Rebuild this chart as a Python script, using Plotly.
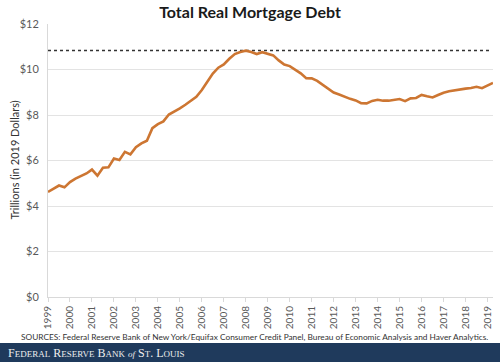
import plotly.graph_objects as go

# Quarterly data, 1999Q1 .. 2019Q2 (trillions, 2019 dollars)
start_year = 1999
debt = [4.62, 4.76, 4.90, 4.82, 5.05, 5.20, 5.32, 5.43, 5.60, 5.33,
        5.68, 5.70, 6.09, 6.02, 6.38, 6.27, 6.58, 6.75, 6.87, 7.42,
        7.60, 7.72, 8.02, 8.15, 8.29, 8.45, 8.62, 8.80, 9.10, 9.45,
        9.82, 10.08, 10.22, 10.47, 10.68, 10.77, 10.83, 10.77, 10.68, 10.76,
        10.70, 10.62, 10.40, 10.22, 10.15, 10.00, 9.83, 9.62, 9.61, 9.50,
        9.32, 9.13, 8.99, 8.90, 8.79, 8.71, 8.64, 8.52, 8.51, 8.62,
        8.67, 8.63, 8.63, 8.67, 8.70, 8.61, 8.73, 8.75, 8.88, 8.82,
        8.77, 8.88, 8.98, 9.04, 9.09, 9.14, 9.16, 9.19, 9.24, 9.18,
        9.30, 9.41]
x_vals = [start_year + i * 0.25 for i in range(len(debt))]
year_ticks = list(range(1999, 2020))
year_labels = [str(y) for y in year_ticks]
y_ticks = [0, 2, 4, 6, 8, 10, 12]
y_labels = ["$" + str(v) for v in y_ticks]
peak = max(debt)

fig = go.Figure()
fig.add_trace(go.Scatter(
    x=[1999, 2019.12], y=[peak, peak], mode="lines",
    line=dict(color="#333333", width=1.5, dash="dot"),
    hoverinfo="skip", showlegend=False))
fig.add_trace(go.Scatter(
    x=x_vals, y=debt, mode="lines",
    line=dict(color="#CD7632", width=2.6),
    showlegend=False))

tick_font = dict(family="Lato, 'Open Sans', sans-serif", size=11, color="#595959")
xtick_font = dict(family="Lato, 'Open Sans', sans-serif", size=10, color="#595959")

fig.update_layout(
    width=500, height=362,
    margin=dict(l=48, r=7, t=24, b=65, autoexpand=False),
    paper_bgcolor="white", plot_bgcolor="white",
    title=dict(text="<b>Total Real Mortgage Debt</b>", x=0.5, xanchor="center",
               y=0.965, yanchor="middle",
               font=dict(family="Lato, 'Open Sans', sans-serif", size=16, color="#1a1a1a")),
    xaxis=dict(range=[1999, 2019.25], tickmode="array", tickvals=year_ticks,
               ticktext=year_labels, tickangle=-90, tickfont=xtick_font,
               showgrid=False, zeroline=False, showline=True, linecolor="#d9d9d9",
               linewidth=1, ticks="outside", ticklen=4, tickcolor="#d9d9d9",
               automargin=False),
    yaxis=dict(range=[0, 12], tickmode="array", tickvals=y_ticks, ticktext=y_labels,
               tickfont=tick_font, showgrid=True, gridcolor="#e3e3e3", gridwidth=1,
               zeroline=False, showline=True, linecolor="#d9d9d9", linewidth=1,
               ticks="", ticklabelstandoff=6, automargin=False),
)

# Y-axis title
fig.add_annotation(
    text="Trillions (in 2019 Dollars)", xref="paper", yref="paper",
    x=-0.0764, y=0.5, xanchor="center", yanchor="middle", textangle=-90,
    showarrow=False, font=dict(family="Lato, 'Open Sans', sans-serif", size=11, color="#333333"))

# Footer band
fig.add_shape(type="rect", xref="paper", yref="paper",
              x0=-0.12, x1=1.03, y0=-0.26, y1=-0.1687,
              fillcolor="#1f3a5c", line=dict(width=0), layer="above")

fig.add_annotation(
    text="SOURCES: Federal Reserve Bank of New York/Equifax Consumer Credit Panel, Bureau of Economic Analysis and Haver Analytics.",
    xref="paper", yref="paper", x=0.463, y=-0.147, xanchor="center", yanchor="middle",
    showarrow=False, font=dict(family="Lato, 'Open Sans', sans-serif", size=8.3, color="#333333"))

footer = ('F<span style="font-size:9px">EDERAL</span> R<span style="font-size:9px">ESERVE</span> '
          'B<span style="font-size:9px">ANK</span> <i><span style="font-size:9px">of</span></i> '
          'S<span style="font-size:9px">T</span>. L<span style="font-size:9px">OUIS</span>')
fig.add_annotation(
    text=footer, xref="paper", yref="paper", x=-0.094, y=-0.2035,
    xanchor="left", yanchor="middle", showarrow=False,
    font=dict(family="'Liberation Serif', serif", size=12, color="#eeeeee"))

fig.write_html("out.html", config={"displayModeBar": False})

# remove default page margin so the figure sits at the window's top-left corner
with open("out.html", "r", encoding="utf-8") as f:
    html = f.read()
html = html.replace("<head>", "<head><style>html,body{margin:0;padding:0;overflow:hidden;}</style>", 1)
with open("out.html", "w", encoding="utf-8") as f:
    f.write(html)
